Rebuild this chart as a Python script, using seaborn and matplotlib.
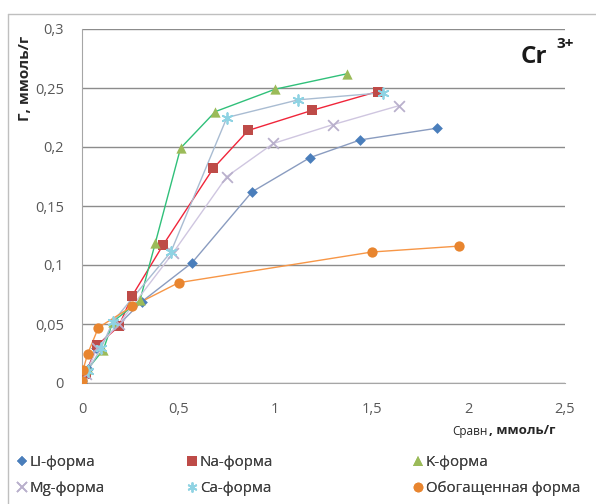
import numpy as np
import pandas as pd
import matplotlib
matplotlib.use("Agg")
import matplotlib.pyplot as plt
import seaborn as sns
from matplotlib.lines import Line2D
from matplotlib.ticker import FuncFormatter


# Data (C_равн, Г)
li_x = [0.0, 0.03, 0.07, 0.31, 0.57, 0.88, 1.18, 1.44, 1.84]
li_y = [0.0, 0.012, 0.03, 0.069, 0.102, 0.162, 0.191, 0.206, 0.216]

na_x = [0.0, 0.02, 0.08, 0.19, 0.26, 0.42, 0.68, 0.86, 1.19, 1.53]
na_y = [0.0, 0.008, 0.032, 0.048, 0.074, 0.117, 0.182, 0.214, 0.231, 0.247]

k_x = [0.0, 0.03, 0.11, 0.16, 0.30, 0.38, 0.51, 0.69, 1.0, 1.37]
k_y = [0.0, 0.012, 0.028, 0.052, 0.070, 0.119, 0.199, 0.230, 0.249, 0.262]

mg_x = [0.0, 0.02, 0.08, 0.19, 0.47, 0.75, 0.99, 1.30, 1.64]
mg_y = [0.0, 0.008, 0.030, 0.050, 0.110, 0.175, 0.203, 0.219, 0.235]

ca_x = [0.0, 0.03, 0.10, 0.16, 0.46, 0.75, 1.12, 1.56]
ca_y = [0.0, 0.010, 0.030, 0.052, 0.111, 0.225, 0.240, 0.246]

ob_x = [0.0, 0.005, 0.03, 0.085, 0.26, 0.50, 1.50, 1.95]
ob_y = [0.002, 0.011, 0.025, 0.047, 0.065, 0.085, 0.111, 0.116]

labels = ["LI-форма", "Na-форма", "K-форма", "Mg-форма", "Ca-форма", "Обогащенная форма"]
xs = [li_x, na_x, k_x, mg_x, ca_x, ob_x]
ys = [li_y, na_y, k_y, mg_y, ca_y, ob_y]

marker_colors = ["#4a7ebb", "#be4b48", "#9bbb59", "#b9b0cc", "#8fd3e3", "#e8852f"]
line_colors = ["#8a9cc0", "#f0253a", "#30c07a", "#cfc6e0", "#a9bcd2", "#f79646"]
markers = ["D", "s", "^", "x", (6, 2, 0), "o"]
msizes = [30, 60, 55, 60, 60, 55]

frames = []
for lab, x, y in zip(labels, xs, ys):
    frames.append(pd.DataFrame({"x": x, "y": y, "series": lab}))
df = pd.concat(frames, ignore_index=True)

sns.set_style("white")
plt.rcParams["font.family"] = ["Open Sans", "DejaVu Sans"]

fig = plt.figure(figsize=(5.96, 5.04), dpi=100)
ax = fig.add_axes([82 / 596, 1 - 383 / 504, (565 - 82) / 596, (383 - 29) / 504])

# lines first
sns.lineplot(data=df, x="x", y="y", hue="series", palette=dict(zip(labels, line_colors)),
             sort=False, estimator=None, linewidth=1.0, legend=False, ax=ax, zorder=2)

# markers
for lab, mk, mc, ms in zip(labels, markers, marker_colors, msizes):
    sub = df[df["series"] == lab]
    if mk in ("x", (6, 2, 0)):
        sns.scatterplot(data=sub, x="x", y="y", marker=mk, color=mc, s=ms,
                        linewidth=1.3, ax=ax, zorder=3, legend=False)
    else:
        sns.scatterplot(data=sub, x="x", y="y", marker=mk, color=mc, s=ms,
                        edgecolor=mc, linewidth=0, ax=ax, zorder=3, legend=False)

ax.set_xlim(0, 2.5)
ax.set_ylim(0, 0.3)
ax.set_xticks([0, 0.5, 1, 1.5, 2, 2.5])
ax.set_yticks([0, 0.05, 0.1, 0.15, 0.2, 0.25, 0.3])

fmt = FuncFormatter(lambda v, p: ("%g" % round(v, 3)).replace(".", ","))
ax.xaxis.set_major_formatter(fmt)
ax.yaxis.set_major_formatter(fmt)

ax.yaxis.grid(True, color="#8c8c8c", linewidth=1)
ax.xaxis.grid(False)
for s in ["top", "right"]:
    ax.spines[s].set_visible(False)
ax.spines["left"].set_color("#a6a6a6")
ax.spines["bottom"].set_color("#a6a6a6")
ax.tick_params(axis="x", length=4, color="#c0c0c0", labelsize=10.5, labelcolor="#595959", pad=10)
ax.tick_params(axis="y", length=0, labelsize=10.5, labelcolor="#595959", pad=13)
ax.set_xlabel("")
ax.set_ylabel("")

# axis titles
fig.text(25 / 596, 1 - 36 / 504, "Г, ммоль/г", rotation=90, ha="center", va="top",
         fontsize=11, fontweight="bold", color="#262626")
fig.text(452 / 596, 1 - 431 / 504, "Cравн", fontsize=8.5, color="#262626", ha="left", va="center")
fig.text(489 / 596, 1 - 431 / 504, ", ммоль/г", fontsize=9.5, fontweight="bold",
         color="#262626", ha="left", va="center")

# ion label
fig.text(521 / 596, 1 - 57 / 504, "Cr", fontsize=17.5, fontweight="bold", color="#1a1a1a",
         ha="left", va="center")
fig.text(556 / 596, 1 - 44 / 504, "3+", fontsize=11, fontweight="bold", color="#1a1a1a",
         ha="left", va="center")

# outer frame
fig.add_artist(Line2D([8 / 596, 8 / 596], [0, 1 - 14 / 504], transform=fig.transFigure,
                      color="#bfbfbf", linewidth=1))
fig.add_artist(Line2D([8 / 596, 1], [1 - 14 / 504, 1 - 14 / 504], transform=fig.transFigure,
                      color="#bfbfbf", linewidth=1))

# legend: three columns, two rows, row-major order
handles = []
for lab, mk, mc in zip(labels, markers, marker_colors):
    if mk in ("x", (6, 2, 0)):
        h = Line2D([], [], linestyle="none", marker=mk, color=mc, markersize=7,
                   markeredgewidth=1.2, label=lab)
    else:
        h = Line2D([], [], linestyle="none", marker=mk, color=mc, markersize=7 if mk != "D" else 5,
                   markeredgewidth=0, label=lab)
    handles.append(h)

col_x = [8, 178, 404]
for i, cx in enumerate(col_x):
    leg = fig.legend(handles=[handles[i], handles[i + 3]], loc="upper left",
                     bbox_to_anchor=(cx / 596, 1 - 449 / 504), ncol=1, frameon=False,
                     fontsize=10.8, handletextpad=0.05, handlelength=1.0, borderaxespad=0,
                     labelspacing=0.75, labelcolor="#404040")
    fig.add_artist(leg)

fig.savefig("out.png", dpi=100)
